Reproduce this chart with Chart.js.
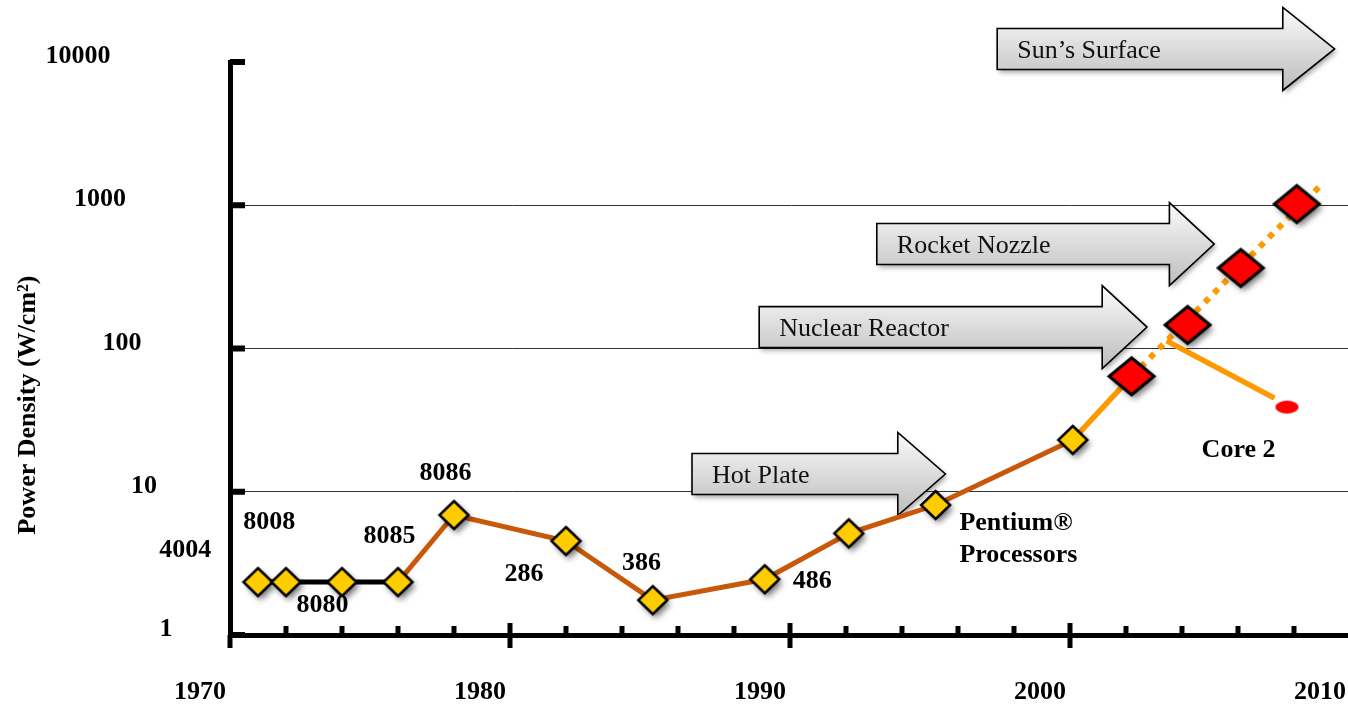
<!DOCTYPE html>
<html><head><meta charset="utf-8">
<script src="https://cdn.jsdelivr.net/npm/chart.js@4/dist/chart.umd.min.js"></script>
<style>html,body{margin:0;padding:0;overflow:hidden;background:#fff}#wrap{width:1352px;height:705px;position:relative}</style>
</head><body><div id="wrap"><canvas id="c"></canvas></div>
<script>
// ---- data ----
const yearTicks = [1970, 1980, 1990, 2000, 2010];
const yTickValues = [1, 10, 100, 1000, 10000];
const yTickLabels = ['1', '10', '100', '1000', '10000'];
const chipYears = [1971, 1972, 1974, 1976, 1978, 1982, 1985.1, 1989.1, 1992.1, 1995.2, 2000.1];
const chipValues = [2.34, 2.34, 2.34, 2.34, 6.88, 4.53, 1.75, 2.45, 5.12, 8.08, 23.0];
const recentYears = [2002.2, 2004.2, 2006.1, 2008.1];
const recentValues = [64, 146, 365, 1020];
const bridgeYears = [2000.1, 2002.2];
const bridgeValues = [23.0, 64];
const trendYears = [2002.2, 2009.0];
const trendValues = [64, 1407];
const core2Years = [2003.45, 2007.3];
const core2Values = [113, 45];
const core2DotYears = [2007.75];
const core2DotValues = [39];
const nameTexts = ['4004', '8008', '8080', '8085', '8086', '286', '386', '486', 'Pentium®', 'Processors', 'Core 2'];
const nameYears = [1968.4, 1971.4, 1973.3, 1975.7, 1977.7, 1980.5, 1984.7, 1990.1, 1996.05, 1996.05, 2004.7];
const nameValues = [3.92, 6.15, 1.62, 4.91, 13.5, 2.67, 3.18, 2.38, 6.05, 3.62, 19.6];
const nameAligns = ['center', 'center', 'center', 'center', 'center', 'center', 'center', 'left', 'left', 'left', 'left'];
const arrowNames = ['Hot Plate', 'Nuclear Reactor', 'Rocket Nozzle', 'Sun’s Surface'];
const arrowStart = [1986.5, 1988.9, 1993.1, 1997.4];
const arrowBase = [1993.85, 2001.15, 2003.55, 2007.6];
const arrowTip = [1995.55, 2002.75, 2005.15, 2009.45];
const arrowLevel = [13.3, 141, 536, 12330];

const pts = (xs, ys) => xs.map((x, i) => ({x: x, y: ys[i]}));
const SERIF = '"Liberation Serif", "Times New Roman", serif';

function diamond(w, h, fill, lw) {
  const pad = 9, c = document.createElement('canvas');
  c.width = w + 2 * pad; c.height = h + 2 * pad;
  const g = c.getContext('2d');
  const cx = c.width / 2, cy = c.height / 2;
  const path = () => { g.beginPath(); g.moveTo(cx, cy - h / 2); g.lineTo(cx + w / 2, cy); g.lineTo(cx, cy + h / 2); g.lineTo(cx - w / 2, cy); g.closePath(); };
  g.save(); g.shadowColor = 'rgba(0,0,0,0.55)'; g.shadowBlur = 6; g.shadowOffsetX = 3; g.shadowOffsetY = 4;
  path(); g.fillStyle = fill; g.fill(); g.restore();
  path(); g.lineWidth = lw; g.strokeStyle = '#000'; g.lineJoin = 'miter'; g.stroke();
  return c;
}
function ellipse(w, h, fill) {
  const c = document.createElement('canvas'); c.width = w + 2; c.height = h + 2;
  const g = c.getContext('2d'); g.beginPath(); g.ellipse(c.width / 2, c.height / 2, w / 2, h / 2, 0, 0, Math.PI * 2);
  g.fillStyle = fill; g.fill(); return c;
}
const yellowDiamond = diamond(29, 28, '#FFCC00', 2.5);
const redDiamond = diamond(45, 37, '#FF0000', 3);
const redDot = ellipse(23, 13, '#FF0000');

const deco = {
  id: 'deco',
  beforeDatasetsDraw(chart) {
    const ctx = chart.ctx, xs = chart.scales.x, ys = chart.scales.y;
    const bh = 20.5, hh = 41.5;
    arrowNames.forEach((name, i) => {
      const x0 = xs.getPixelForValue(arrowStart[i]), xb = xs.getPixelForValue(arrowBase[i]), xt = xs.getPixelForValue(arrowTip[i]);
      const yc = ys.getPixelForValue(arrowLevel[i]);
      const path = () => {
        ctx.beginPath(); ctx.moveTo(x0, yc - bh); ctx.lineTo(xb, yc - bh); ctx.lineTo(xb, yc - hh); ctx.lineTo(xt, yc);
        ctx.lineTo(xb, yc + hh); ctx.lineTo(xb, yc + bh); ctx.lineTo(x0, yc + bh); ctx.closePath();
      };
      const grad = ctx.createLinearGradient(0, yc - hh, 0, yc + hh);
      grad.addColorStop(0, '#fbfbfb'); grad.addColorStop(1, '#bcbcbc');
      ctx.save();
      ctx.shadowColor = 'rgba(0,0,0,0.35)'; ctx.shadowBlur = 5; ctx.shadowOffsetX = 2; ctx.shadowOffsetY = 3;
      path(); ctx.fillStyle = grad; ctx.fill();
      ctx.restore();
      ctx.save(); path(); ctx.lineWidth = 1.6; ctx.strokeStyle = '#000'; ctx.lineJoin = 'miter'; ctx.stroke();
      ctx.font = '26px ' + SERIF; ctx.fillStyle = '#111'; ctx.textAlign = 'left'; ctx.textBaseline = 'alphabetic';
      ctx.fillText(name, x0 + 20, yc + 9);
      ctx.restore();
    });
  },
  afterDatasetsDraw(chart) {
    const ctx = chart.ctx, xs = chart.scales.x, ys = chart.scales.y;
    ctx.save();
    ctx.font = 'bold 26px ' + SERIF; ctx.fillStyle = '#000'; ctx.textBaseline = 'middle';
    nameTexts.forEach((t, i) => {
      ctx.textAlign = nameAligns[i];
      ctx.fillText(t, xs.getPixelForValue(nameYears[i]), ys.getPixelForValue(nameValues[i]));
    });
    ctx.restore();
  },
  afterDraw(chart) {
    const ctx = chart.ctx, xs = chart.scales.x, ys = chart.scales.y, a = chart.chartArea;
    ctx.save();
    ctx.fillStyle = '#000';
    yTickValues.forEach(v => { const p = ys.getPixelForValue(v); ctx.fillRect(a.left, p - 3, 15, 6); });
    ctx.fillRect(a.left - 2.5, a.bottom, 5, 13);
    for (let yr = 1972; yr < 2010; yr += 2) {
      const p = xs.getPixelForValue(yr);
      if (yr % 10 === 0) ctx.fillRect(p - 2.5, a.bottom - 12, 5, 25);
      else ctx.fillRect(p - 2.5, a.bottom - 9, 5, 9);
    }
    ctx.font = 'bold 26px ' + SERIF; ctx.textAlign = 'center'; ctx.textBaseline = 'middle';
    yTickValues.forEach((v, k) => {
      ctx.fillText(yTickLabels[k], a.left - 64 - 22 * k, ys.getPixelForValue(v) - 5.5);
    });
    ctx.translate(28, 405); ctx.rotate(-Math.PI / 2);
    ctx.fillText('Power Density (W/cm²)', 0, 0);
    ctx.restore();
  }
};

new Chart(document.getElementById('c'), {
  type: 'line',
  data: {
    datasets: [
      {data: pts(chipYears.slice(0, 4), chipValues.slice(0, 4)), borderColor: '#000', borderWidth: 5, pointRadius: 0, order: 3},
      {data: pts(chipYears.slice(3), chipValues.slice(3)), borderColor: '#C8580A', borderWidth: 5, pointRadius: 0, order: 3},
      {data: pts(bridgeYears, bridgeValues), borderColor: '#FF9900', borderWidth: 5.5, pointRadius: 0, order: 3},
      {data: pts(trendYears, trendValues), borderColor: '#FF9900', borderWidth: 6, borderDash: [6, 7], borderCapStyle: 'butt', pointRadius: 0, order: 3},
      {data: pts(core2Years, core2Values), borderColor: '#FF9900', borderWidth: 5.5, pointRadius: 0, order: 3},
      {data: pts(chipYears, chipValues), showLine: false, pointStyle: yellowDiamond, pointRadius: 1, order: 1},
      {data: pts(recentYears, recentValues), showLine: false, pointStyle: redDiamond, pointRadius: 1, order: 1},
      {data: pts(core2DotYears, core2DotValues), showLine: false, pointStyle: redDot, pointRadius: 1, order: 1}
    ]
  },
  options: {
    responsive: true, maintainAspectRatio: false, animation: false,
    layout: {autoPadding: false, padding: {left: 0, right: 2, top: 62, bottom: 0}},
    plugins: {legend: {display: false}, tooltip: {enabled: false}},
    elements: {line: {tension: 0}},
    scales: {
      x: {
        type: 'linear', min: 1970, max: 2010,
        afterBuildTicks: s => { s.ticks = yearTicks.map(v => ({value: v})); },
        afterFit: s => { s.height = 70; s.paddingLeft = 0; s.paddingRight = 0; },
        grid: {display: false, drawTicks: false, tickLength: 0},
        border: {display: true, width: 5, color: '#000'},
        ticks: {autoSkip: false, maxRotation: 0, labelOffset: -30, padding: 42, color: '#000',
          font: {family: SERIF, size: 26, weight: 'bold'}, callback: v => String(v)}
      },
      y: {
        type: 'logarithmic', min: 1, max: 10000,
        afterBuildTicks: s => { s.ticks = yTickValues.map(v => ({value: v})); },
        afterFit: s => { s.width = 230; s.paddingTop = 0; s.paddingBottom = 0; },
        grid: {drawTicks: false, tickLength: 0, lineWidth: 1,
          color: c => (c.tick && c.tick.value > 1 && c.tick.value < 10000) ? '#333' : 'rgba(0,0,0,0)'},
        border: {display: true, width: 5, color: '#000'},
        ticks: {display: false}
      }
    }
  },
  plugins: [deco]
});
</script>
</body></html>
